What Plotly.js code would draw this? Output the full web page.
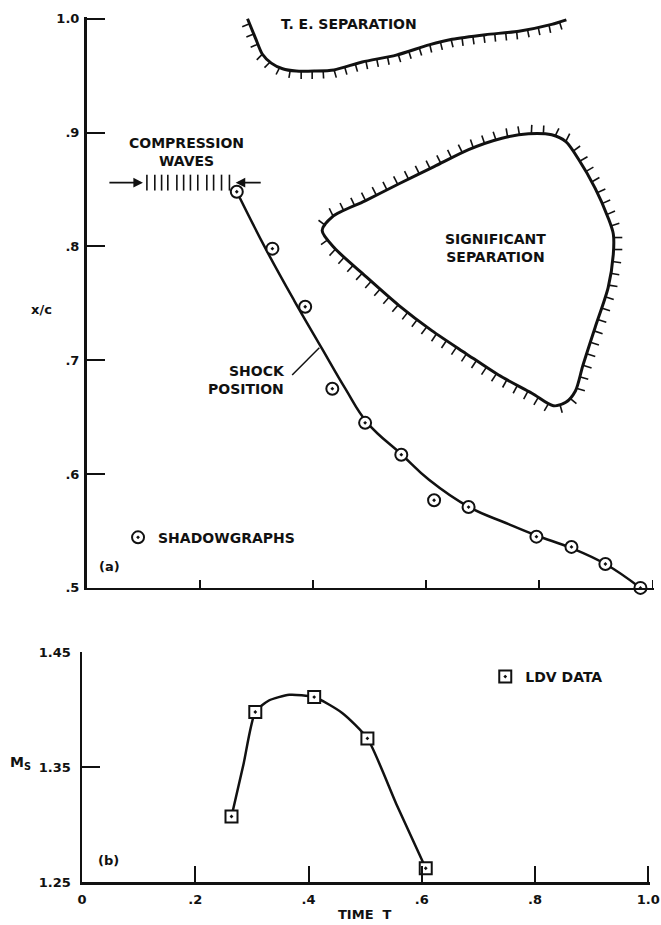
<!DOCTYPE html>
<html><head><meta charset="utf-8">
<script src="https://cdn.plot.ly/plotly-3.0.1.min.js"></script>
<style>html,body{margin:0;padding:0;background:#fff}</style>
</head><body><div id="chart" style="width:661px;height:925px"></div>
<script>
// ---------- (a) shock position x/c vs time T ----------
const shadowT = [0.265,0.328,0.386,0.434,0.492,0.556,0.614,0.675,0.795,0.857,0.917,0.979];
const shadowX = [0.848,0.798,0.747,0.675,0.645,0.617,0.577,0.571,0.545,0.536,0.521,0.500];

const shockT = [0.265,0.316,0.367,0.416,0.457,0.496,0.557,0.605,0.676,0.741,0.795,0.857,0.917,0.979];
const shockX = [0.848,0.798,0.752,0.710,0.675,0.645,0.617,0.595,0.571,0.557,0.546,0.535,0.521,0.500];

const leaderT = [0.363,0.411];
const leaderX = [0.687,0.711];

// trailing-edge separation boundary
const teT = [0.284,0.298,0.310,0.326,0.346,0.370,0.402,0.437,0.487,0.547,0.605,0.646,0.705,0.764,0.822,0.848];
const teX = [1.000,0.983,0.969,0.961,0.956,0.954,0.954,0.955,0.962,0.968,0.977,0.982,0.986,0.989,0.995,0.999];

// significant separation region (closed boundary, clockwise on screen)
const sepT = [0.416,0.434,0.492,0.552,0.614,0.675,0.734,0.781,0.822,0.847,0.869,0.899,0.922,0.931,0.931,0.922,0.899,0.877,0.864,0.847,0.825,0.787,0.728,0.670,0.610,0.552,0.490,0.437,0.416];
const sepX = [0.814,0.826,0.840,0.855,0.870,0.885,0.895,0.899,0.898,0.892,0.877,0.851,0.825,0.811,0.793,0.764,0.729,0.695,0.673,0.663,0.660,0.671,0.687,0.706,0.726,0.748,0.775,0.799,0.814];

// compression waves
const waveT = [0.106,0.120,0.132,0.143,0.159,0.171,0.183,0.196,0.212,0.224,0.238,0.252];
const waveLo = 0.849, waveHi = 0.863, waveLevel = 0.856;
const arrowLeft = {from:0.037, to:0.099};
const arrowRight = {from:0.310, to:0.263};

// ---------- (b) shock Mach number vs time ----------
const ldvT = [0.264,0.306,0.410,0.504,0.607];
const ldvM = [1.307,1.398,1.411,1.375,1.262];
const fitT = [0.264,0.285,0.306,0.330,0.366,0.410,0.460,0.504,0.555,0.607];
const fitM = [1.307,1.352,1.398,1.408,1.413,1.411,1.397,1.375,1.318,1.262];

// tick labels
const xTickVals = [0,0.2,0.4,0.6,0.8,1.0];
const xTickText = ['0','.2','.4','.6','.8','1.0'];
const yaTickVals = [0.5,0.6,0.7,0.8,0.9,1.0];
const yaTickText = ['.5','.6','.7','.8','.9','1.0'];
const ybTickVals = [1.25,1.35,1.45];
const ybTickText = ['1.25','1.35','1.45'];

const INK = '#111';
const F = (size)=>({family:'DejaVu Sans', size:size, color:INK, weight:'bold'});

const traces = [
  {x:shockT, y:shockX, mode:'lines', line:{color:INK,width:2.5,shape:'spline',smoothing:1.2}, xaxis:'x', yaxis:'y', showlegend:false, hoverinfo:'skip'},
  {x:leaderT, y:leaderX, mode:'lines', line:{color:INK,width:1.5}, xaxis:'x', yaxis:'y', showlegend:false, hoverinfo:'skip'},
  {x:teT, y:teX, mode:'lines', line:{color:INK,width:3,shape:'spline',smoothing:0.7}, xaxis:'x', yaxis:'y', showlegend:false, hoverinfo:'skip', cliponaxis:false},
  {x:sepT, y:sepX, mode:'lines', line:{color:INK,width:3,shape:'spline',smoothing:0.8}, xaxis:'x', yaxis:'y', showlegend:false, hoverinfo:'skip'},
  (function(){const x=[],y=[];waveT.forEach(t=>{x.push(t,t,null);y.push(waveLo,waveHi,null);});
    return {x:x,y:y,mode:'lines',line:{color:INK,width:1.6,simplify:false},xaxis:'x',yaxis:'y',showlegend:false,hoverinfo:'skip'};})(),
  {x:shadowT, y:shadowX, mode:'markers', name:'SHADOWGRAPHS', legend:'legend',
   marker:{symbol:'circle-dot', size:12, color:'#fff', line:{color:INK,width:2}}, xaxis:'x', yaxis:'y', cliponaxis:false},
  {x:fitT, y:fitM, mode:'lines', line:{color:INK,width:2.5,shape:'spline',smoothing:0.6}, xaxis:'x2', yaxis:'y2', showlegend:false, hoverinfo:'skip'},
  {x:ldvT, y:ldvM, mode:'markers', name:'LDV DATA', legend:'legend2',
   marker:{symbol:'square-dot', size:12, color:'#fff', line:{color:INK,width:2}}, xaxis:'x2', yaxis:'y2', cliponaxis:false}
];

const axBase = {showgrid:false, zeroline:false, showline:true, linecolor:INK, ticks:'inside', tickcolor:INK, tickfont:F(13), fixedrange:true, ticklabeloverflow:'allow'};

const layout = {
  width:661, height:925,
  margin:{l:82, r:7, t:17, b:43},
  paper_bgcolor:'#fff', plot_bgcolor:'#fff',
  font:F(13),
  xaxis: Object.assign({}, axBase, {domain:[0.0087,1], range:[0,1.003], tickvals:xTickVals, ticktext:xTickText, showticklabels:false, ticklen:8, tickwidth:1.5, linewidth:2.5, anchor:'y'}),
  yaxis: Object.assign({}, axBase, {domain:[0.340,1], range:[0.5,1.0015], tickvals:yaTickVals, ticktext:yaTickText, ticklen:18, tickwidth:2, linewidth:3, anchor:'x', ticklabelstandoff:2}),
  xaxis2: Object.assign({}, axBase, {domain:[0,0.993], range:[0,1.003], tickvals:xTickVals, ticktext:xTickText, ticklen:16, tickwidth:2, linewidth:2.5, anchor:'y2', ticklabelstandoff:4}),
  yaxis2: Object.assign({}, axBase, {domain:[0,0.266], range:[1.25,1.4503], tickvals:ybTickVals, ticktext:ybTickText, ticklen:18, tickwidth:2, linewidth:2.5, anchor:'x2', ticklabelstandoff:6}),
  legend:{x:0.063, y:0.398, xanchor:'left', yanchor:'middle', font:F(14), bgcolor:'rgba(0,0,0,0)', borderwidth:0},
  legend2:{x:0.705, y:0.237, xanchor:'left', yanchor:'middle', font:F(14), bgcolor:'rgba(0,0,0,0)', borderwidth:0},
  showlegend:true,
  annotations:[
    {text:'T. E. SEPARATION', x:0.464, y:0.9956, xref:'x', yref:'y', showarrow:false, font:F(14)},
    {text:'COMPRESSION<br>WAVES', x:0.176, y:0.883, xref:'x', yref:'y', showarrow:false, font:F(14)},
    {text:'SIGNIFICANT<br>SEPARATION', x:0.723, y:0.799, xref:'x', yref:'y', showarrow:false, font:F(14)},
    {text:'SHOCK<br>POSITION', x:0.353, y:0.683, xref:'x', yref:'y', xanchor:'right', align:'right', showarrow:false, font:F(14)},
    {text:'(a)', x:0.018, y:0.519, xref:'x', yref:'y', xanchor:'left', showarrow:false, font:F(13)},
    {text:'(b)', x:0.025, y:1.269, xref:'x2', yref:'y2', xanchor:'left', showarrow:false, font:F(13)},
    {text:'x/c', x:-0.070, y:0.662, xref:'paper', yref:'paper', xanchor:'center', yanchor:'middle', showarrow:false, font:F(13)},
    {text:'M<sub>S</sub>', x:-0.108, y:0.138, xref:'paper', yref:'paper', xanchor:'center', yanchor:'middle', showarrow:false, font:F(14)},
    {text:'TIME  T', x:0.495, y:-0.038, xref:'paper', yref:'paper', xanchor:'center', yanchor:'middle', showarrow:false, font:F(13)},
    {text:'', x:arrowLeft.to, y:waveLevel, ax:arrowLeft.from, ay:waveLevel, xref:'x', yref:'y', axref:'x', ayref:'y', showarrow:true, arrowhead:2, arrowsize:1.2, arrowwidth:1.6, arrowcolor:INK},
    {text:'', x:arrowRight.to, y:waveLevel, ax:arrowRight.from, ay:waveLevel, xref:'x', yref:'y', axref:'x', ayref:'y', showarrow:true, arrowhead:2, arrowsize:1.2, arrowwidth:1.6, arrowcolor:INK}
  ]
};

function hatches(xs, ys, sx, sy, spacing, len, side){
  const P = xs.map((x,i)=>[x*sx, -ys[i]*sy]);
  const hx=[], hy=[];
  let carry = spacing/2;
  for(let i=0;i<P.length-1;i++){
    const x0=P[i][0], y0=P[i][1], x1=P[i+1][0], y1=P[i+1][1];
    const dx=x1-x0, dy=y1-y0, L=Math.hypot(dx,dy);
    if(L===0) continue;
    const ux=dx/L, uy=dy/L;
    const nx=-uy*side, ny=ux*side;
    let s=carry;
    while(s<=L){
      const px=x0+ux*s, py=y0+uy*s;
      hx.push(px/sx,(px+nx*len)/sx,null);
      hy.push(-py/sy,-(py+ny*len)/sy,null);
      s+=spacing;
    }
    carry=s-L;
  }
  return {hx:hx, hy:hy};
}

Plotly.newPlot('chart', traces, layout, {staticPlot:true}).then(gd=>{
  const xa=gd._fullLayout.xaxis, ya=gd._fullLayout.yaxis;
  const sx = xa._length/(xa.range[1]-xa.range[0]);
  const sy = ya._length/(ya.range[1]-ya.range[0]);
  const te = hatches(teT, teX, sx, sy, 11, 8, 1);
  const sp = hatches(sepT, sepX, sx, sy, 12, 9, -1);
  return Plotly.addTraces(gd, [
    {x:te.hx, y:te.hy, mode:'lines', line:{color:INK,width:1.6,simplify:false}, xaxis:'x', yaxis:'y', showlegend:false, hoverinfo:'skip', cliponaxis:false},
    {x:sp.hx, y:sp.hy, mode:'lines', line:{color:INK,width:1.6,simplify:false}, xaxis:'x', yaxis:'y', showlegend:false, hoverinfo:'skip'}
  ]);
});
</script>
</body></html>
